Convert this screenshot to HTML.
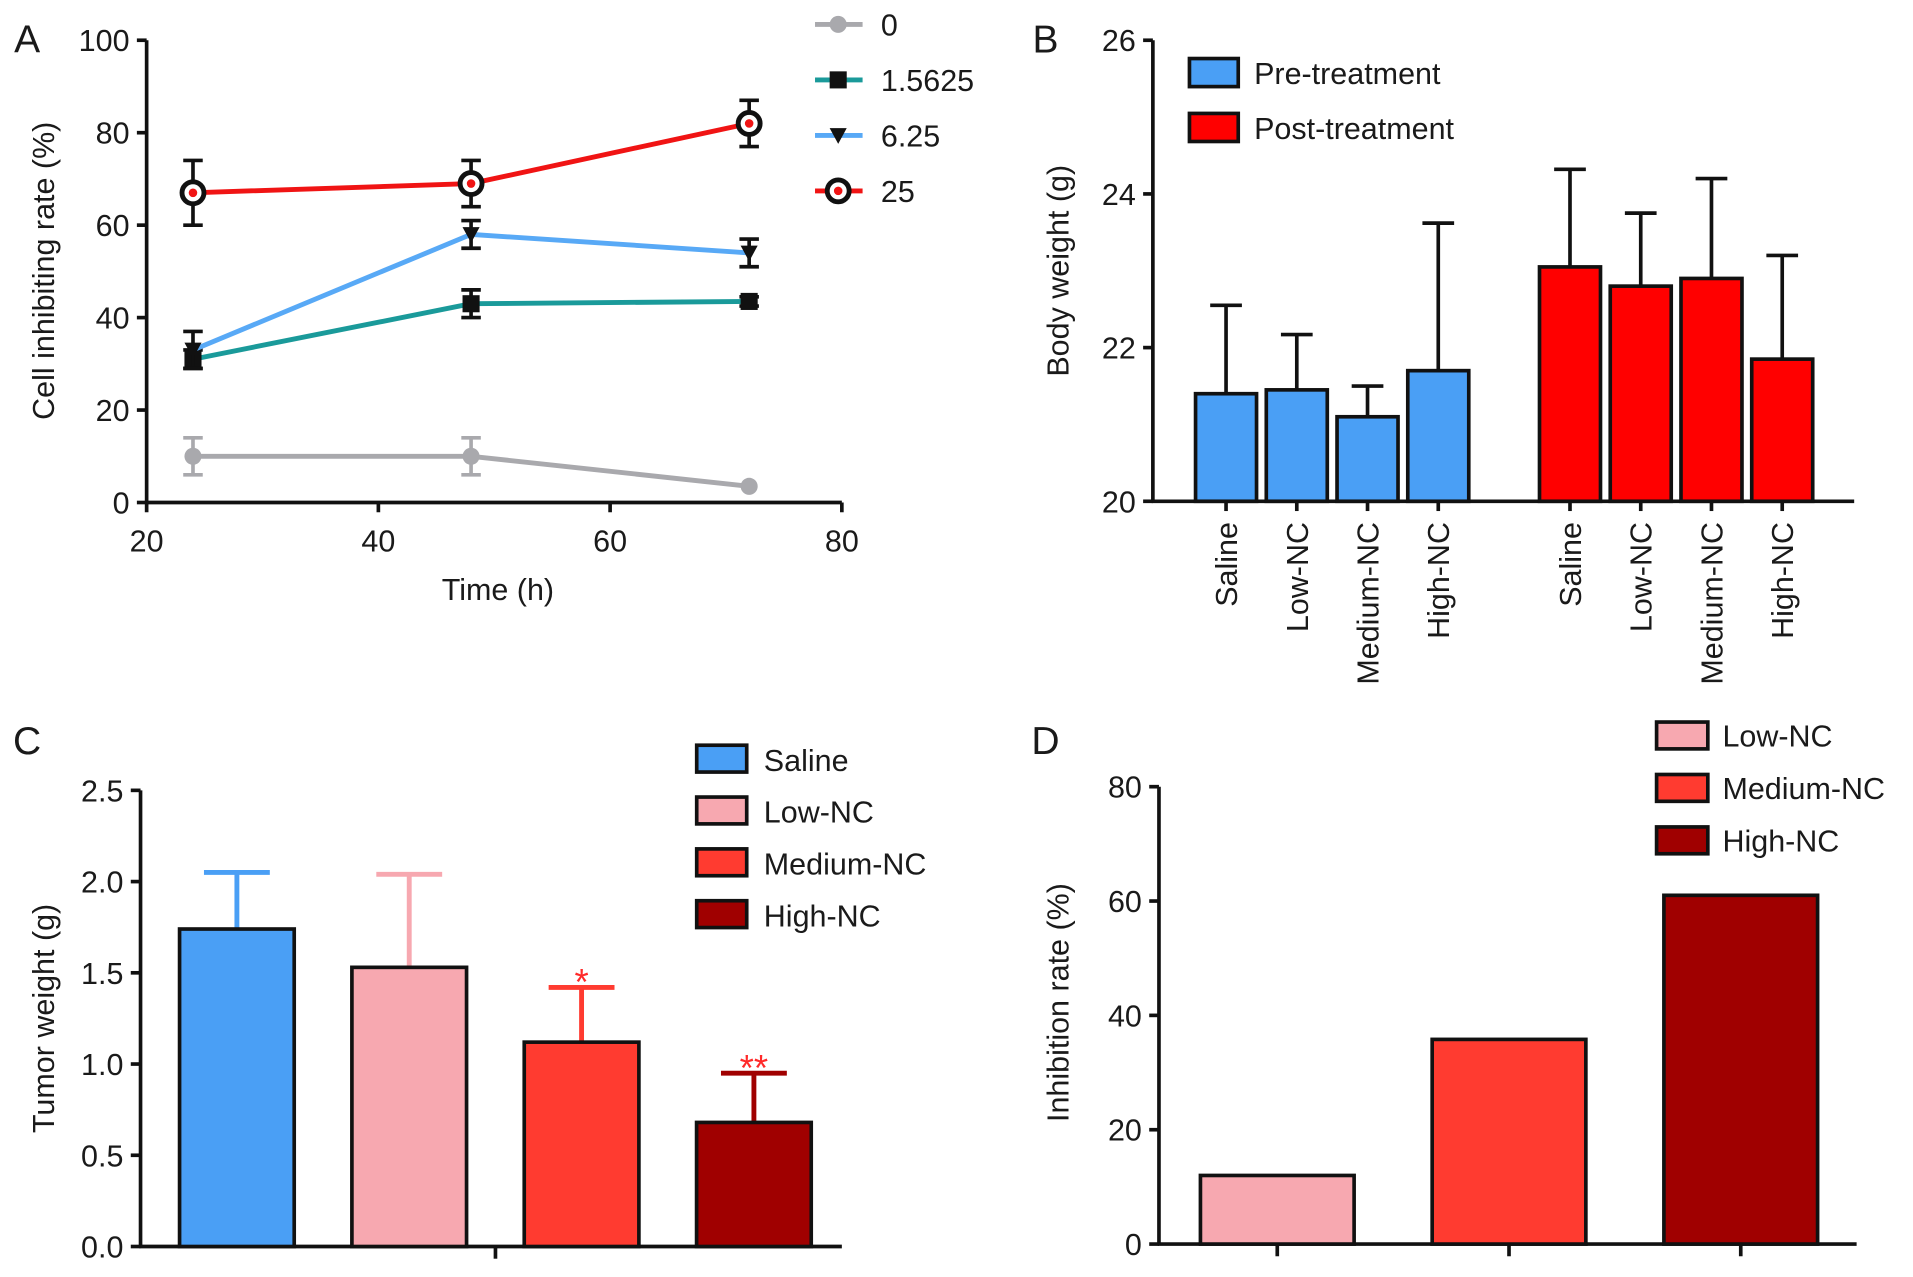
<!DOCTYPE html>
<html><head><meta charset="utf-8"><style>
html,body{margin:0;padding:0;background:#fff;}
svg{display:block;font-family:"Liberation Sans",Arial,sans-serif;}
text{fill:#1a1a1a;}
</style></head><body>
<svg id="fig" width="1913" height="1277" viewBox="0 0 1568 1047"></svg>
<script>
// ---- Panel A data
const timesA = [24, 48, 72];
const seriesNamesA = ["0", "1.5625", "6.25", "25"];
const valsA0 = [10, 10, 3.5];
const valsA1 = [31, 43, 43.5];
const valsA2 = [33, 58, 54];
const valsA3 = [67, 69, 82];
const errA0 = [4, 4, 0];
const errA1 = [2, 3, 1];
const errA2 = [4, 3, 3];
const errA3 = [7, 5, 5];
const xTicksA = [20, 40, 60, 80];
const yTicksA = [0, 20, 40, 60, 80, 100];
// ---- Panel B data
const groupsB = ["Saline", "Low-NC", "Medium-NC", "High-NC"];
const preB = [21.4, 21.45, 21.1, 21.7];
const preErrB = [1.15, 0.72, 0.4, 1.92];
const postB = [23.05, 22.8, 22.9, 21.85];
const postErrB = [1.27, 0.95, 1.3, 1.35];
const yTicksB = [20, 22, 24, 26];
// ---- Panel C data
const groupsC = ["Saline", "Low-NC", "Medium-NC", "High-NC"];
const valsC = [1.74, 1.53, 1.12, 0.68];
const errC = [0.31, 0.51, 0.30, 0.27];
const starsC = ["", "", "*", "**"];
const yTicksC = [0, 0.5, 1.0, 1.5, 2.0, 2.5];
// ---- Panel D data
const groupsD = ["Low-NC", "Medium-NC", "High-NC"];
const valsD = [12, 35.8, 61];
const yTicksD = [0, 20, 40, 60, 80];

const svg = document.getElementById('fig');
const NS = 'http://www.w3.org/2000/svg';
const FS = 25;
function el(tag, attrs, parent) {
  const e = document.createElementNS(NS, tag);
  for (const k in attrs) e.setAttribute(k, attrs[k]);
  (parent || svg).appendChild(e);
  return e;
}
function txt(x, y, s, size, anchor, parent, extra) {
  const t = el('text', Object.assign({x: x, y: y, 'font-size': size, 'text-anchor': anchor || 'middle'}, extra || {}), parent);
  t.textContent = s;
  return t;
}
function group(name) {
  const g = el('g', {});
  
  
  return g;
}

// ================= Panel A
(function () {
  const g = group('panel-a');
  const x0 = 120, x1 = 690, yb = 412, yt = 33;
  const xs = v => x0 + (v - 20) / 60 * (x1 - x0);
  const ys = v => yb - v / 100 * (yb - yt);
  txt(22, 43, 'A', 32, 'middle', g);
  el('line', {x1: x0, y1: yt, x2: x0, y2: yb + 1, stroke: '#111', 'stroke-width': 3}, g);
  el('line', {x1: x0 - 1, y1: yb, x2: x1, y2: yb, stroke: '#111', 'stroke-width': 3}, g);
  yTicksA.forEach(v => {
    el('line', {x1: x0 - 8, y1: ys(v), x2: x0, y2: ys(v), stroke: '#111', 'stroke-width': 3}, g);
    const t = txt(x0 - 14, ys(v) + 9, String(v), FS, 'end', g);
    
    
  });
  xTicksA.forEach(v => {
    el('line', {x1: xs(v), y1: yb, x2: xs(v), y2: yb + 8, stroke: '#111', 'stroke-width': 3}, g);
    const t = txt(xs(v), yb + 40, String(v), FS, 'middle', g);
    
    
  });
  const yt1 = txt(0, 0, 'Cell inhibiting rate (%)', FS, 'middle', g, {transform: 'translate(44,222) rotate(-90)'});
  
  
  const xt = txt(408, 492, 'Time (h)', FS, 'middle', g);
  
  

  const vals = [valsA0, valsA1, valsA2, valsA3];
  const errs = [errA0, errA1, errA2, errA3];
  const cols = ['#a9a9ad', '#1a9a9a', '#58a9f6', '#f01414'];
  const ebCol = ['#a9a9ad', '#111', '#111', '#111'];
  function marker(k, x, y, p) {
    if (k === 0) return el('circle', {cx: x, cy: y, r: 7, fill: cols[0]}, p);
    if (k === 1) return el('rect', {x: x - 7, y: y - 7, width: 14, height: 14, fill: '#111'}, p);
    if (k === 2) return el('path', {d: `M${x - 7},${y - 6} L${x + 7},${y - 6} L${x},${y + 7} Z`, fill: '#111'}, p);
    const c = el('g', {}, p);
    el('circle', {cx: x, cy: y, r: 9, fill: '#fff', stroke: '#111', 'stroke-width': 4}, c);
    el('circle', {cx: x, cy: y, r: 3.5, fill: '#f01414'}, c);
    return c;
  }
  vals.forEach((arr, k) => {
    const sg = el('g', {}, g);
    
    
    el('polyline', {points: arr.map((v, i) => xs(timesA[i]) + ',' + ys(v)).join(' '), fill: 'none', stroke: cols[k], 'stroke-width': 4}, sg);
    arr.forEach((v, i) => {
      const x = xs(timesA[i]);
      const e = errs[k][i];
      if (e > 0) {
        el('line', {x1: x, y1: ys(v + e), x2: x, y2: ys(v - e), stroke: ebCol[k], 'stroke-width': 3}, sg);
        el('line', {x1: x - 8, y1: ys(v + e), x2: x + 8, y2: ys(v + e), stroke: ebCol[k], 'stroke-width': 3}, sg);
        el('line', {x1: x - 8, y1: ys(v - e), x2: x + 8, y2: ys(v - e), stroke: ebCol[k], 'stroke-width': 3}, sg);
      }
      const m = marker(k, x, ys(v), sg);
      
      
    });
    const ly = 20 + k * 45.5;
    const lg = el('g', {}, g);
    
    
    el('line', {x1: 668, y1: ly, x2: 707, y2: ly, stroke: cols[k], 'stroke-width': 4}, lg);
    marker(k, 687, ly, lg);
    txt(722, ly + 9, seriesNamesA[k], FS, 'start', lg);
  });
})();

// ================= Panel B
(function () {
  const g = group('panel-b');
  const x0 = 945, x1 = 1520, yb = 411, yt = 33;
  const ys = v => yb - (v - 20) / 6 * (yb - yt);
  txt(857, 43, 'B', 32, 'middle', g);
  el('line', {x1: x0, y1: yt, x2: x0, y2: yb + 1, stroke: '#111', 'stroke-width': 3}, g);
  el('line', {x1: x0 - 1, y1: yb, x2: x1, y2: yb, stroke: '#111', 'stroke-width': 3}, g);
  yTicksB.forEach(v => {
    el('line', {x1: x0 - 8, y1: ys(v), x2: x0, y2: ys(v), stroke: '#111', 'stroke-width': 3}, g);
    const t = txt(x0 - 14, ys(v) + 9, String(v), FS, 'end', g);
    
    
  });
  const yt1 = txt(0, 0, 'Body weight (g)', FS, 'middle', g, {transform: 'translate(876,222) rotate(-90)'});
  
  
  const w = 50;
  function draw(vals, errs, startX, col, tag) {
    vals.forEach((v, i) => {
      const cx = startX + i * 58;
      el('line', {x1: cx, y1: ys(v), x2: cx, y2: ys(v + errs[i]), stroke: '#111', 'stroke-width': 3}, g);
      el('line', {x1: cx - 13, y1: ys(v + errs[i]), x2: cx + 13, y2: ys(v + errs[i]), stroke: '#111', 'stroke-width': 3}, g);
      el('line', {x1: cx, y1: yb, x2: cx, y2: yb + 8, stroke: '#111', 'stroke-width': 3}, g);
      const b = el('rect', {x: cx - w / 2, y: ys(v), width: w, height: yb - ys(v), fill: col, stroke: '#111', 'stroke-width': 3}, g);
      
      
      const t = txt(0, 0, groupsB[i], FS, 'end', g, {transform: `translate(${cx + 9},428) rotate(-90)`});
      
      
    });
  }
  draw(preB, preErrB, 1005, '#4a9ff5', 'pre');
  draw(postB, postErrB, 1287, '#ff0000', 'post');
  [['Pre-treatment', '#4a9ff5', 60], ['Post-treatment', '#ff0000', 105]].forEach(([s, c, y]) => {
    const lg = el('g', {}, g);
    
    
    el('rect', {x: 975, y: y - 12, width: 40, height: 23, fill: c, stroke: '#111', 'stroke-width': 3}, lg);
    txt(1028, y + 9, s, FS, 'start', lg);
  });
})();

// ================= Panel C
(function () {
  const g = group('panel-c');
  const x0 = 115, x1 = 690, yb = 1022, yt = 648;
  const ys = v => yb - v / 2.5 * (yb - yt);
  txt(22, 618, 'C', 32, 'middle', g);
  el('line', {x1: x0, y1: yt, x2: x0, y2: yb + 1, stroke: '#111', 'stroke-width': 3}, g);
  el('line', {x1: x0 - 1, y1: yb, x2: x1, y2: yb, stroke: '#111', 'stroke-width': 3}, g);
  el('line', {x1: 406, y1: yb, x2: 406, y2: yb + 10, stroke: '#111', 'stroke-width': 3}, g);
  yTicksC.forEach(v => {
    el('line', {x1: x0 - 8, y1: ys(v), x2: x0, y2: ys(v), stroke: '#111', 'stroke-width': 3}, g);
    const t = txt(x0 - 14, ys(v) + 9, v.toFixed(1), FS, 'end', g);
    
    
  });
  const yt1 = txt(0, 0, 'Tumor weight (g)', FS, 'middle', g, {transform: 'translate(44,835) rotate(-90)'});
  
  
  const cols = ['#4a9ff5', '#f7a8b0', '#ff3b30', '#a00000'];
  valsC.forEach((v, i) => {
    const cx = 194 + i * 141.3;
    const top = ys(v + errC[i]);
    el('line', {x1: cx, y1: ys(v), x2: cx, y2: top, stroke: cols[i], 'stroke-width': 4}, g);
    el('line', {x1: cx - 27, y1: top, x2: cx + 27, y2: top, stroke: cols[i], 'stroke-width': 4}, g);
    const b = el('rect', {x: cx - 47, y: ys(v), width: 94, height: yb - ys(v), fill: cols[i], stroke: '#111', 'stroke-width': 3}, g);
    
    
    if (starsC[i]) {
      const s = txt(cx, top + 6, starsC[i], 30, 'middle', g, {style: 'fill:#ff2a2a'});
      
      
    }
    const lg = el('g', {}, g);
    
    
    const ly = 622 + i * 42.5;
    el('rect', {x: 571, y: ly - 11, width: 41, height: 22, fill: cols[i], stroke: '#111', 'stroke-width': 3}, lg);
    txt(626, ly + 10, groupsC[i], FS, 'start', lg);
  });
})();

// ================= Panel D
(function () {
  const g = group('panel-d');
  const x0 = 950, x1 = 1522, yb = 1020, yt = 645;
  const ys = v => yb - v / 80 * (yb - yt);
  txt(857, 618, 'D', 32, 'middle', g);
  el('line', {x1: x0, y1: yt, x2: x0, y2: yb + 1, stroke: '#111', 'stroke-width': 3}, g);
  el('line', {x1: x0 - 1, y1: yb, x2: x1, y2: yb, stroke: '#111', 'stroke-width': 3}, g);
  yTicksD.forEach(v => {
    el('line', {x1: x0 - 8, y1: ys(v), x2: x0, y2: ys(v), stroke: '#111', 'stroke-width': 3}, g);
    const t = txt(x0 - 14, ys(v) + 9, String(v), FS, 'end', g);
    
    
  });
  const yt1 = txt(0, 0, 'Inhibition rate (%)', FS, 'middle', g, {transform: 'translate(876,822) rotate(-90)'});
  
  
  const cols = ['#f7a8b0', '#ff3b30', '#a00000'];
  valsD.forEach((v, i) => {
    const cx = 1047 + i * 190;
    el('line', {x1: cx, y1: yb, x2: cx, y2: yb + 10, stroke: '#111', 'stroke-width': 3}, g);
    const b = el('rect', {x: cx - 63, y: ys(v), width: 126, height: yb - ys(v), fill: cols[i], stroke: '#111', 'stroke-width': 3}, g);
    
    
    const lg = el('g', {}, g);
    
    
    const ly = 603 + i * 43;
    el('rect', {x: 1358, y: ly - 11, width: 42, height: 22, fill: cols[i], stroke: '#111', 'stroke-width': 3}, lg);
    txt(1412, ly + 9, groupsD[i], FS, 'start', lg);
  });
})();
</script>
</body></html>
